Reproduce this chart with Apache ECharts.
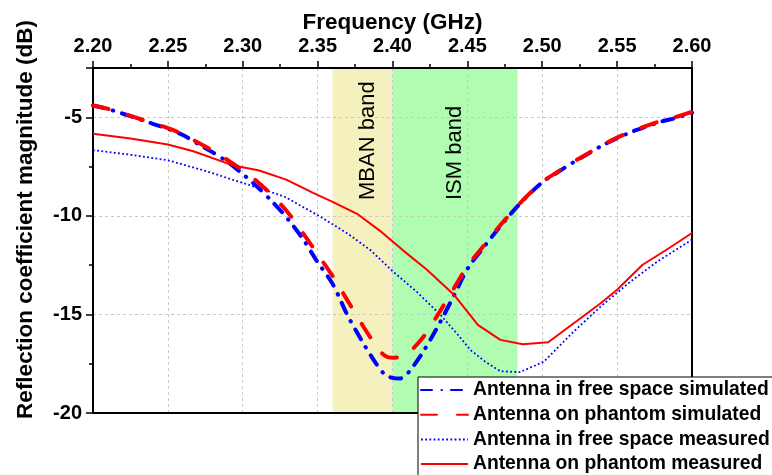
<!DOCTYPE html>
<html>
<head>
<meta charset="utf-8">
<script src="https://cdn.jsdelivr.net/npm/echarts@6/dist/echarts.min.js"></script>
<style>
  html, body { margin: 0; padding: 0; background: #fff; }
  #chart { width: 772px; height: 475px; }
</style>
</head>
<body>
<div id="chart"></div>
<script>
// Frequency grid of the simulated responses (GHz)
const freqSim = [2.20, 2.21, 2.22, 2.23, 2.24, 2.25, 2.26, 2.27, 2.28, 2.29,
                 2.30, 2.31, 2.32, 2.33, 2.34, 2.35, 2.36, 2.37, 2.38, 2.39,
                 2.395, 2.40, 2.405, 2.41, 2.42, 2.43, 2.44, 2.45, 2.46, 2.47,
                 2.48, 2.49, 2.50, 2.51, 2.52, 2.53, 2.54, 2.55, 2.56, 2.57,
                 2.58, 2.59, 2.60];
// |S11| in dB, simulated, antenna in free space
const s11FreeSim = [-4.40, -4.58, -4.82, -5.07, -5.33, -5.58, -5.90, -6.35, -6.78, -7.28,
                    -7.88, -8.55, -9.30, -10.15, -11.15, -12.35, -13.45, -15.05, -16.40, -17.60,
                    -18.05, -18.22, -18.25, -18.00, -16.95, -15.65, -14.20, -12.70, -11.68, -10.72,
                    -9.81, -9.00, -8.30, -7.80, -7.32, -6.88, -6.43, -6.06, -5.73, -5.46,
                    -5.21, -5.02, -4.77];
// |S11| in dB, simulated, antenna on phantom
const s11PhantomSim = [-4.40, -4.57, -4.80, -5.05, -5.30, -5.55, -5.86, -6.28, -6.70, -7.18,
                       -7.70, -8.28, -8.98, -9.82, -10.85, -11.95, -13.05, -14.30, -15.55, -16.70,
                       -17.10, -17.20, -17.15, -17.00, -16.20, -15.05, -13.80, -12.55, -11.60, -10.65,
                       -9.78, -8.98, -8.28, -7.78, -7.30, -6.86, -6.41, -6.03, -5.70, -5.42,
                       -5.17, -4.97, -4.72];

// Measured, antenna in free space
const freqFreeMeas = [2.200, 2.225, 2.250, 2.275, 2.298, 2.314, 2.328, 2.352, 2.370, 2.385,
                      2.400, 2.416, 2.432, 2.445, 2.452, 2.462, 2.472, 2.485, 2.501, 2.521,
                      2.539, 2.559, 2.577, 2.600];
const s11FreeMeas = [-6.67, -6.90, -7.18, -7.72, -8.28, -8.67, -9.03, -10.05, -10.90, -11.72,
                     -12.80, -13.84, -15.02, -16.15, -16.80, -17.40, -17.88, -17.93, -17.40, -15.87,
                     -14.60, -13.33, -12.31, -11.21];

// Measured, antenna on phantom
const freqPhantomMeas = [2.200, 2.225, 2.250, 2.267, 2.294, 2.311, 2.329, 2.347, 2.360, 2.377,
                         2.393, 2.407, 2.423, 2.441, 2.457, 2.472, 2.487, 2.504, 2.539, 2.550,
                         2.567, 2.583, 2.600];
const s11PhantomMeas = [-5.83, -6.08, -6.38, -6.72, -7.45, -7.70, -8.16, -8.83, -9.29, -9.93,
                        -10.84, -11.75, -12.73, -14.00, -15.53, -16.29, -16.51, -16.41, -14.43, -13.75,
                        -12.48, -11.72, -10.87];

// Allocated frequency bands (GHz)
const bandNames = ['MBAN band', 'ISM band'];
const bandStart = [2.36, 2.40];
const bandEnd = [2.40, 2.4835];
const bandColors = ['#f5f1bf', '#b0fcb0'];

const seriesNames = ['Antenna in free space simulated', 'Antenna on phantom simulated',
                     'Antenna in free space measured', 'Antenna on phantom measured'];

const FONT = '"Liberation Sans", Arial, sans-serif';
const zip = (xs, ys) => xs.map((x, i) => [x, ys[i]]);

const chart = echarts.init(document.getElementById('chart'), null, { renderer: 'canvas' });

const axisLine = { show: true, onZero: false, lineStyle: { color: '#000', width: 2 } };
const gridLine = { show: true, lineStyle: { color: '#c8c8c8', type: [3, 3], width: 1 } };

chart.setOption({
  animation: false,
  backgroundColor: '#fff',
  grid: { left: 93, right: 80, top: 68, bottom: 62 },
  xAxis: [{
    type: 'value', position: 'top', min: 2.2, max: 2.6, interval: 0.05, z: 1,
    name: 'Frequency (GHz)', nameLocation: 'middle', nameGap: 34, nameMoveOverlap: false,
    nameTextStyle: { fontFamily: FONT, fontSize: 22.5, fontWeight: 'bold', color: '#000' },
    axisLine: axisLine,
    axisTick: { show: true, inside: false, length: 7, lineStyle: { color: '#000', width: 1.5 } },
    minorTick: { show: true, splitNumber: 2, length: 4, lineStyle: { color: '#000', width: 1.5 } },
    axisLabel: { margin: 12, formatter: v => v.toFixed(2), fontFamily: FONT, fontSize: 20,
                 fontWeight: 'bold', color: '#000', showMinLabel: true, showMaxLabel: true },
    splitLine: gridLine
  }, {
    type: 'value', position: 'bottom', min: 2.2, max: 2.6, z: 1,
    axisLine: axisLine, axisTick: { show: false }, axisLabel: { show: false },
    splitLine: { show: false }
  }],
  yAxis: [{
    type: 'value', min: -20, max: -2.5, interval: 5, z: 1,
    name: 'Reflection coefficient magnitude (dB)', nameLocation: 'middle', nameGap: 56,
    nameMoveOverlap: false,
    nameTextStyle: { fontFamily: FONT, fontSize: 22.5, fontWeight: 'bold', color: '#000',
                     padding: [0, 0, 0, 42] },
    axisLine: axisLine,
    axisTick: { show: true, inside: false, length: 7, lineStyle: { color: '#000', width: 1.5 } },
    minorTick: { show: true, splitNumber: 2, length: 4, lineStyle: { color: '#000', width: 1.5 } },
    axisLabel: { margin: 11, formatter: v => (v % 5 === 0 ? String(v) : ''), fontFamily: FONT,
                 fontSize: 20, fontWeight: 'bold', color: '#000' },
    splitLine: gridLine
  }, {
    type: 'value', position: 'right', min: -20, max: -2.5, z: 1,
    axisLine: axisLine, axisTick: { show: false }, axisLabel: { show: false },
    splitLine: { show: false }
  }],
  legend: {
    orient: 'vertical', left: 418, top: 377, height: 140,
    padding: [3, 30, 12, 2], itemGap: 4.7, itemWidth: 47, itemHeight: 20,
    borderColor: '#000', borderWidth: 1, backgroundColor: '#fff',
    data: seriesNames,
    itemStyle: { opacity: 0 },
    textStyle: { fontFamily: FONT, fontSize: 19.3, fontWeight: 'bold', color: '#000', lineHeight: 20 }
  },
  series: [
    {
      type: 'line', data: [], silent: true, z: 0,
      markArea: {
        z: 0, silent: true,
        data: bandNames.map((name, i) => [{
          xAxis: bandStart[i], name: name,
          itemStyle: { color: bandColors[i], opacity: 1 },
          label: {
            show: true, position: [i === 0 ? 35 : 62, 132], rotate: 90,
            align: 'left', verticalAlign: 'middle',
            fontFamily: FONT, fontSize: 22, fontWeight: 'normal', color: '#000'
          }
        }, { xAxis: bandEnd[i] }])
      }
    },
    {
      name: seriesNames[0], type: 'line', z: 2, symbol: 'none', smooth: 0.3,
      data: zip(freqSim, s11FreeSim),
      itemStyle: { color: '#0000ff' },
      lineStyle: { color: '#0000ff', width: 4, type: [11, 9.5, 0.5, 9], cap: 'round' }
    },
    {
      name: seriesNames[1], type: 'line', z: 3, symbol: 'none', smooth: 0.3,
      data: zip(freqSim, s11PhantomSim),
      itemStyle: { color: '#ff0000' },
      lineStyle: { color: '#ff0000', width: 4, type: [16, 20], cap: 'round' }
    },
    {
      name: seriesNames[2], type: 'line', z: 2, symbol: 'none',
      data: zip(freqFreeMeas, s11FreeMeas),
      itemStyle: { color: '#0000ff' },
      lineStyle: { color: '#0000ff', width: 1.8, type: [1.8, 2.4] }
    },
    {
      name: seriesNames[3], type: 'line', z: 2, symbol: 'none',
      data: zip(freqPhantomMeas, s11PhantomMeas),
      itemStyle: { color: '#ff0000' },
      lineStyle: { color: '#ff0000', width: 2 }
    }
  ]
});
</script>
</body>
</html>
